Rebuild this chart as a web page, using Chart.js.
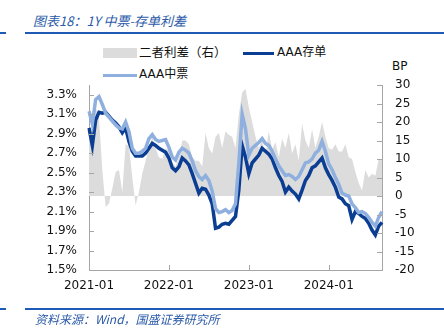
<!DOCTYPE html>
<html>
<head>
<meta charset="utf-8">
<script src="https://cdn.jsdelivr.net/npm/chart.js@4.4.0/dist/chart.umd.min.js"></script>
<style>
  body { margin: 0; background: #fff; width: 444px; height: 334px; overflow: hidden; position: relative;
         font-family: "DejaVu Sans", "Noto Sans CJK SC", sans-serif; }
  #wrap { position: absolute; left: 0; top: 0; width: 444px; height: 334px; }
  .t { position: absolute; white-space: nowrap; line-height: 1; }
  .rule { position: absolute; height: 2px; background: #1f5bb5; }
  .cap { font-family: "Noto Sans CJK SC", sans-serif; font-style: italic; color: #2b5aa8; }
  .lg { font-size: 12.5px; color: #111; }
</style>
</head>
<body>
<div class="t cap" style="left:33px; top:14px; font-size:13px;">图表18：1Y 中票-存单利差</div>
<div class="rule" style="left:0; top:32px; width:6px;"></div>
<div class="rule" style="left:25px; top:32px; width:419px;"></div>

<div style="position:absolute; left:103px; top:48px; width:34px; height:10px; background:#dcdcdc;"></div>
<div class="t lg" style="left:139px; top:46px; font-family:'Noto Sans CJK SC';">二者利差（右）</div>
<div style="position:absolute; left:243px; top:52px; width:31px; height:3px; background:#0b3e93;"></div>
<div class="t lg" style="left:277px; top:46px; font-size:12px;">AAA存单</div>
<div style="position:absolute; left:103px; top:74px; width:34px; height:3px; background:#8fb0de;"></div>
<div class="t lg" style="left:139px; top:68px; font-size:12px;">AAA中票</div>
<div class="t lg" style="left:392px; top:60px; font-size:12px;">BP</div>

<div id="wrap"><canvas id="c"></canvas></div>

<div class="rule" style="left:0; top:308px; width:6px;"></div>
<div class="rule" style="left:25px; top:308px; width:419px;"></div>
<div class="t cap" style="left:35px; top:313px; font-size:12px;">资料来源：Wind，国盛证券研究所</div>

<script>
// semi-monthly dates 2021-01-01 .. 2024-09-01
var dates = [];
for (var k = 0; k <= 88; k++) {
  var mo = Math.floor(k / 2);
  var yr = 2021 + Math.floor(mo / 12);
  var mm = mo % 12 + 1;
  dates.push(yr + '-' + (mm < 10 ? '0' + mm : mm) + '-' + (k % 2 ? '16' : '01'));
}

// AAA存单 (%)
var cd = [2.96, 2.78, 3.04, 3.12, 3.11, 3.12, 3.08, 3.04, 3.01, 2.97,
          2.91, 2.96, 2.82, 2.72, 2.67, 2.67, 2.67, 2.70, 2.75, 2.80,
          2.78, 2.75, 2.73, 2.71, 2.65, 2.55, 2.52, 2.56, 2.65, 2.62,
          2.58, 2.49, 2.39, 2.29, 2.34, 2.33, 2.27, 2.18, 1.93, 1.94,
          1.97, 1.98, 1.97, 2.01, 2.05, 2.32, 2.78, 2.66, 2.49, 2.60,
          2.64, 2.68, 2.75, 2.72, 2.69, 2.64, 2.55, 2.47, 2.41, 2.30,
          2.35, 2.31, 2.28, 2.23, 2.32, 2.42, 2.47, 2.55, 2.57, 2.61,
          2.65, 2.55, 2.48, 2.42, 2.35, 2.25, 2.23, 2.18, 2.16, 2.02,
          2.10, 2.08, 2.05, 2.03, 1.98, 1.91, 1.86, 1.95, 1.99];

// AAA中票 (%)
var mtn = [3.13, 3.00, 3.25, 3.28, 3.20, 3.11, 3.07, 3.03, 2.99, 2.96,
           2.95, 3.02, 2.92, 2.75, 2.70, 2.70, 2.72, 2.75, 2.85, 2.89,
           2.84, 2.82, 2.83, 2.84, 2.76, 2.66, 2.63, 2.71, 2.75, 2.73,
           2.70, 2.62, 2.52, 2.46, 2.43, 2.47, 2.42, 2.31, 2.13, 2.09,
           2.10, 2.12, 2.09, 2.11, 2.18, 2.60, 3.10, 2.95, 2.68, 2.75,
           2.78, 2.81, 2.85, 2.80, 2.78, 2.72, 2.64, 2.57, 2.52, 2.47,
           2.48, 2.46, 2.43, 2.46, 2.53, 2.60, 2.61, 2.64, 2.70, 2.73,
           2.82, 2.72, 2.59, 2.53, 2.45, 2.38, 2.29, 2.27, 2.26, 2.18,
           2.14, 2.09, 2.10, 2.08, 2.04, 1.99, 1.95, 2.04, 2.10];

// 二者利差 (BP, right axis)
var spread = [16, 20, 24, 21, 7, -3, -2, 2, 6.5, 7,
              1, 14, 13.5, 5, -2.5, 1, 6, 9.5, 13, 16,
              13, 10.5, 10, 13, 12, 9, 8, 10.5, 15, 15,
              14, 10.5, 9.5, 9.5, 8, 17, 13, 11.5, 16, 17,
              13, 17.5, 16.5, 16, 13, 22, 28, 29, 24, 20,
              16, 13, 15, 11.5, 17.5, 12.5, 14.5, 10.5, 15.5, 13,
              17, 11.5, 14, 9.5, 19.5, 15, 13, 18, 13, 16,
              20, 16, 13, 12.5, 14, 12, 12, 14, 10.5, 10,
              6.5, 3.5, 1.5, 7, 5, 6, 5.5, 10, 10];

var leftTicks = [1.5, 1.7, 1.9, 2.1, 2.3, 2.5, 2.7, 2.9, 3.1, 3.3];
var rightTicks = [-20, -15, -10, -5, 0, 5, 10, 15, 20, 25, 30];

var axisGrey = '#a6a6a6';
var tickFont = { family: 'DejaVu Sans', size: 12 };

// small inward tick marks like the original
var tickMarks = {
  id: 'tickMarks',
  afterDraw: function (chart) {
    var ctx = chart.ctx, a = chart.chartArea;
    var sy = chart.scales.y, sy1 = chart.scales.y1, sx = chart.scales.x;
    ctx.save();
    ctx.strokeStyle = axisGrey;
    ctx.lineWidth = 1;
    ctx.beginPath();
    leftTicks.forEach(function (v) {
      var p = Math.round(sy.getPixelForValue(v)) + 0.5;
      ctx.moveTo(a.left, p); ctx.lineTo(a.left + 5, p);
    });
    rightTicks.forEach(function (v) {
      var p = Math.round(sy1.getPixelForValue(v)) + 0.5;
      ctx.moveTo(a.right - 5, p); ctx.lineTo(a.right, p);
    });
    dates.forEach(function (d, i) {
      if (d.slice(5) === '01-01') {
        var p = Math.round(sx.getPixelForValue(i)) + 0.5;
        ctx.moveTo(p, a.bottom); ctx.lineTo(p, a.bottom - 5);
      }
    });
    ctx.stroke();
    ctx.restore();
  }
};

new Chart(document.getElementById('c'), {
  type: 'line',
  data: {
    labels: dates,
    datasets: [
      {
        label: 'AAA中票',
        data: mtn,
        yAxisID: 'y',
        borderColor: '#8fb0de',
        borderWidth: 3.5,
        pointRadius: 0,
        tension: 0,
        fill: false,
        order: 1
      },
      {
        label: 'AAA存单',
        data: cd,
        yAxisID: 'y',
        borderColor: '#0b3e93',
        borderWidth: 3.5,
        pointRadius: 0,
        tension: 0,
        fill: false,
        order: 2
      },
      {
        label: '二者利差（右）',
        data: spread,
        yAxisID: 'y1',
        borderWidth: 0,
        borderColor: 'rgba(0,0,0,0)',
        backgroundColor: '#dcdcdc',
        pointRadius: 0,
        tension: 0,
        fill: 'origin',
        order: 3
      }
    ]
  },
  options: {
    responsive: true,
    maintainAspectRatio: false,
    animation: false,
    layout: { padding: { top: 85, left: 0, right: 0, bottom: 0 } },
    plugins: {
      legend: { display: false },
      tooltip: { enabled: false }
    },
    scales: {
      x: {
        offset: false,
        grid: { display: false, drawTicks: false },
        border: { display: true, color: axisGrey, width: 1 },
        ticks: {
          autoSkip: false,
          maxRotation: 0,
          padding: 9,
          color: '#111',
          font: tickFont,
          callback: function (val) {
            var d = dates[val];
            return d.slice(5) === '01-01' ? d.slice(0, 7) : '';
          }
        },
        afterFit: function (s) { s.height = 64; }
      },
      y: {
        position: 'left',
        min: 1.5,
        max: 3.4,
        grid: { display: false, drawTicks: false },
        border: { display: true, color: axisGrey, width: 1 },
        afterBuildTicks: function (s) {
          s.ticks = leftTicks.map(function (v) { return { value: v }; });
        },
        ticks: {
          padding: 12,
          color: '#111',
          font: tickFont,
          callback: function (v) { return v.toFixed(1) + '%'; }
        },
        afterFit: function (s) { s.width = 89; }
      },
      y1: {
        position: 'right',
        min: -20,
        max: 30,
        grid: { display: false, drawTicks: false },
        border: { display: true, color: axisGrey, width: 1 },
        afterBuildTicks: function (s) {
          s.ticks = rightTicks.map(function (v) { return { value: v }; });
        },
        ticks: {
          padding: 13,
          color: '#111',
          font: tickFont
        },
        afterFit: function (s) { s.width = 62; }
      }
    }
  },
  plugins: [tickMarks]
});
</script>
</body>
</html>
